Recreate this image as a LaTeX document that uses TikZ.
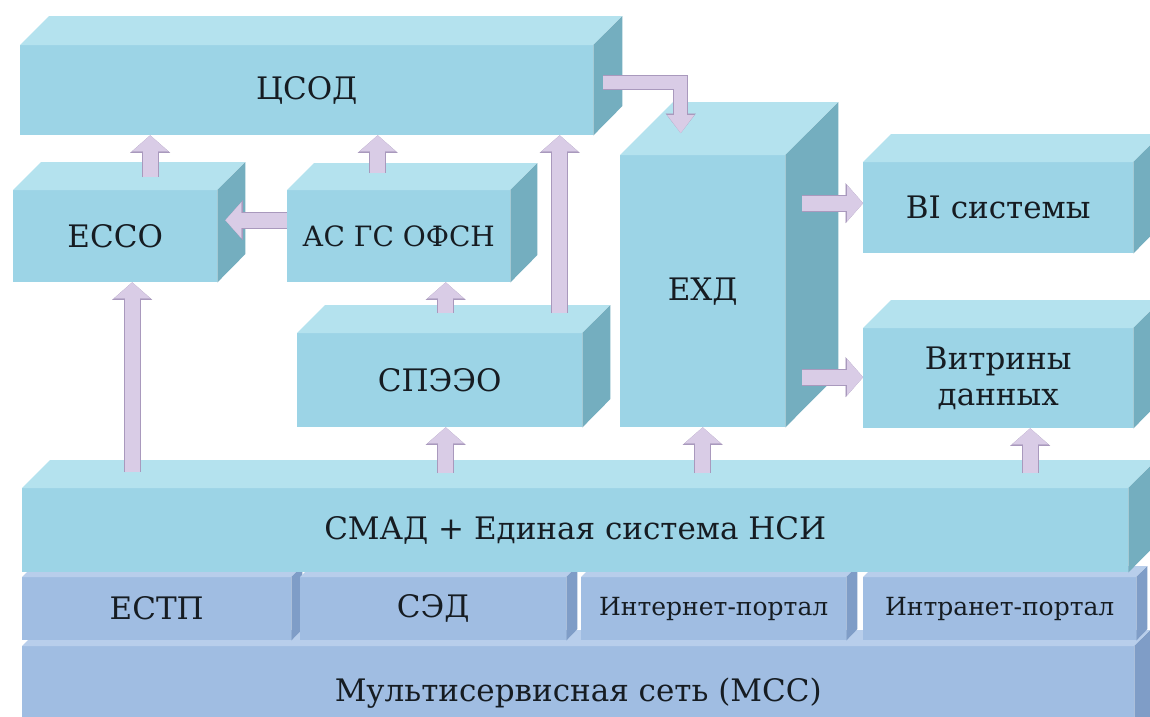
\documentclass[tikz,border=0pt]{standalone}
\usepackage{fontspec}
\setmainfont{DejaVu Serif}
\usetikzlibrary{calc,arrows.meta}
\definecolor{cfront}{HTML}{9CD4E6}
\definecolor{ctop}{HTML}{B4E2EE}
\definecolor{cside}{HTML}{74AEBF}
\definecolor{bfront}{HTML}{A0BDE2}
\definecolor{btop}{HTML}{B8CEEB}
\definecolor{bside}{HTML}{7F9DC7}
\definecolor{arrowfill}{HTML}{D9CCE6}
\definecolor{arrowedge}{HTML}{A999BD}
\definecolor{txt}{HTML}{161C22}
\tikzset{
  frontface/.style={fill=#1front, draw=none, inner sep=0pt, text=txt, align=center,
    font=\fontsize{31}{36}\selectfont},
  portal/.style={font=\fontsize{25}{30}\selectfont},
  narrowtext/.style={font=\fontsize{28}{34}\selectfont},
  barrow/.style={draw=arrowfill, line width=15pt, line join=miter,
    -{Triangle[length=16pt,width=36pt,line width=0.1pt 0]},
    preaction={draw=arrowedge, line width=17pt, line join=miter,
      -{Triangle[length=17.5pt,width=40pt,line width=0.1pt 0]}}},
  thinarrow/.style={draw=arrowfill, line width=13pt, line join=miter,
    -{Triangle[length=18pt,width=27pt,line width=0.1pt 0]},
    preaction={draw=arrowedge, line width=15pt, line join=miter,
      -{Triangle[length=19.5pt,width=30pt,line width=0.1pt 0]}}},
}
% #1 scheme, #2 name, #3 x1, #4 y1, #5 x2, #6 y2, #7 depth, #8 options, #9 text
\newcommand\solidbox[9]{%
  \node[frontface=#1, anchor=north west, minimum width={(#5-#3)*1pt},
        minimum height={(#6-#4)*1pt}, #8] (#2) at (#3,#4) {#9};
  \fill[#1top] (#2.north west) -- ++(#7,-#7) -- ++({#5-#3},0) -- (#2.north east) -- cycle;
  \fill[#1side] (#2.north east) -- ++(#7,-#7) -- ++(0,{#6-#4}) -- (#2.south east) -- cycle;
}
\begin{document}
\begin{tikzpicture}[x=1pt,y=-1pt]
\useasboundingbox (0,0) rectangle (1150,716);
\fill[white] (0,0) rectangle (1150,716);
% bottom layers
\solidbox{b}{mss}{22}{646}{1134}{740}{16}{}{Мультисервисная сеть (МСС)}
\solidbox{b}{estp}{22}{577}{291}{640}{11}{}{ЕСТП}
\solidbox{b}{sed}{300}{577}{566}{640}{11}{}{СЭД}
\solidbox{b}{inet}{581}{577}{846}{640}{11}{portal}{Интернет-портал}
\solidbox{b}{intra}{863}{577}{1136}{640}{11}{portal}{Интранет-портал}
\solidbox{c}{smad}{22}{488}{1128}{572}{28}{}{СМАД + Единая система НСИ}
% upper boxes
\solidbox{c}{csod}{20}{45}{593}{135}{29}{}{ЦСОД}
\solidbox{c}{ecco}{13}{190}{217}{282}{28}{}{ЕССО}
\solidbox{c}{ashs}{287}{190}{510}{282}{27}{narrowtext}{АС ГС ОФСН}
\solidbox{c}{speo}{297}{333}{582}{427}{28}{}{СПЭЭО}
\solidbox{c}{ehd}{620}{155}{785}{427}{53}{}{ЕХД}
\solidbox{c}{bi}{863}{162}{1133}{253}{28}{}{BI системы}
\solidbox{c}{vit}{863}{328}{1133}{428}{28}{}{Витрины\\данных}
% arrows
\draw[barrow] ($(ecco.north)+(35,-13)$) coordinate (a1) -- (a1 |- csod.south);
\draw[barrow] ($(ashs.north)+(-21,-17)$) coordinate (a2) -- (a2 |- csod.south);
\draw[barrow] ($(ashs.west)+(0,-16)$) coordinate (a3) -- ($(a3 -| ecco.east)+(8,0)$);
\coordinate (e4) at ($(ecco.south)+(17,0)$);
\draw[barrow] ($(e4 |- smad.north)+(0,-16)$) -- (e4);
\draw[barrow] ($(speo.north)+(6,-20)$) coordinate (a5) -- (a5 |- ashs.south);
\draw[barrow] ($(speo.north)+(120,-20)$) coordinate (a6) -- (a6 |- csod.south);
\draw[thinarrow] ($(csod.east)+(10,-8)$) -| ($(ehd.north)+(-22,-22)$);
\draw[barrow] ($(ehd.east)+(17,-88)$) coordinate (a8) -- (a8 -| bi.west);
\draw[barrow] ($(ehd.east)+(17,86)$) coordinate (a9) -- (a9 -| vit.west);
\coordinate (e10) at ($(speo.south)+(6,0)$);
\draw[barrow] ($(e10 |- smad.north)+(0,-15)$) -- (e10);
\coordinate (e11) at (ehd.south);
\draw[barrow] ($(e11 |- smad.north)+(0,-15)$) -- (e11);
\coordinate (e12) at ($(vit.south)+(32,0)$);
\draw[barrow] ($(e12 |- smad.north)+(0,-15)$) -- (e12);
\end{tikzpicture}
\end{document}
